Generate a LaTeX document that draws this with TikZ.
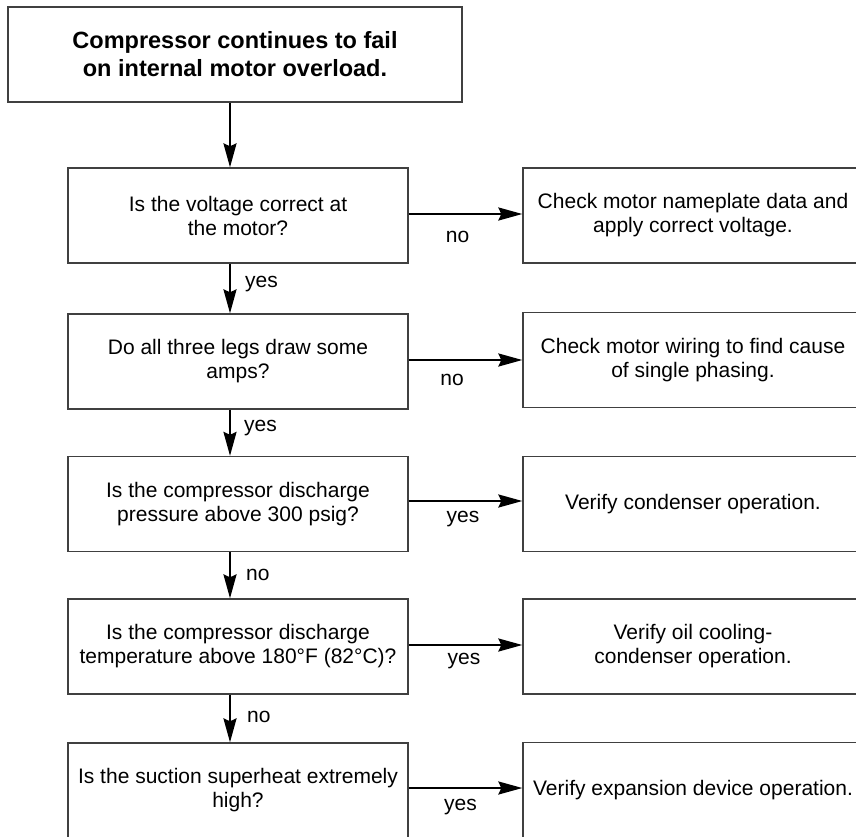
\documentclass[tikz,border=0pt]{standalone}
\usepackage{fontspec}
\setmainfont{Liberation Sans}
\usetikzlibrary{arrows.meta}
\begin{document}
\begin{tikzpicture}[x=1pt,y=-1pt,
  box/.style={draw=black!75, line width=1.3pt, minimum width=340pt, minimum height=95pt,
    inner sep=0pt, align=center, font=\fontsize{21}{24}\selectfont},
  topbox/.style={box, minimum width=454pt, font=\fontsize{23.5}{28}\selectfont\bfseries},
  arr/.style={line width=2.4pt, -{Stealth[length=24pt,width=13pt,inset=3pt]}},
  lbl/.style={font=\fontsize{21}{24}\selectfont, inner sep=0pt}]
\useasboundingbox (0,0) rectangle (856,836);
\clip (0,0) rectangle (856,836);

\node[topbox] (top) at (235,54.5) {Compressor continues to fail\\on internal motor overload.};

\node[box] (q1) at (238,215.5) {Is the voltage correct at\\the motor?};
\node[box] (q2) at (238,361.5) {Do all three legs draw some\\amps?};
\node[box] (q3) at (238,504) {Is the compressor discharge\\pressure above 300 psig?};
\node[box] (q4) at (238,646.5) {Is the compressor discharge\\temperature above 180°F (82°C)?};
\node[box] (q5) at (238,790.5) {Is the suction superheat extremely\\high?};

\node[box] (r1) at (693,215.5) {Check motor nameplate data and\\apply correct voltage.};
\node[box] (r2) at (693,360) {Check motor wiring to find cause\\of single phasing.};
\node[box] (r3) at (693,504) {Verify condenser operation.};
\node[box] (r4) at (693,646.5) {Verify oil cooling-\\condenser operation.};
\node[box] (r5) at (693,790) {Verify expansion device operation.};

% vertical arrows
\draw[arr] ([xshift=-5pt]top.south) -- ([xshift=-8pt]q1.north);
\draw[arr] ([xshift=-8pt]q1.south) -- ([xshift=-8pt]q2.north);
\draw[arr] ([xshift=-8pt]q2.south) -- ([xshift=-8pt]q3.north);
\draw[arr] ([xshift=-8pt]q3.south) -- ([xshift=-8pt]q4.north);
\draw[arr] ([xshift=-8pt]q4.south) -- ([xshift=-8pt]q5.north);

% horizontal arrows
\draw[arr] ([yshift=1.5pt]q1.east) -- ([yshift=1.5pt]q1.east -| r1.west);
\draw[arr] ([yshift=1.5pt]q2.east) -- ([yshift=1.5pt]q2.east -| r2.west);
\draw[arr] ([yshift=3pt]q3.east) -- ([yshift=3pt]q3.east -| r3.west);
\draw[arr] ([yshift=1.5pt]q4.east) -- ([yshift=1.5pt]q4.east -| r4.west);
\draw[arr] ([yshift=2.5pt]q5.east) -- ([yshift=2.5pt]q5.east -| r5.west);

% labels on vertical arrows
\node[lbl, anchor=west] (l1) at (245,284) {yes};
\node[lbl, anchor=west] (l2) at (244,428) {yes};
\node[lbl, anchor=west] (l3) at (246,575) {no};
\node[lbl, anchor=west] (l4) at (247,717) {no};

% labels on horizontal arrows
\node[lbl] (m1) at (457.5,237) {no};
\node[lbl] (m2) at (452,380) {no};
\node[lbl] (m3) at (463,519) {yes};
\node[lbl] (m4) at (464,661) {yes};
\node[lbl] (m5) at (460.5,807) {yes};
\end{tikzpicture}
\end{document}
